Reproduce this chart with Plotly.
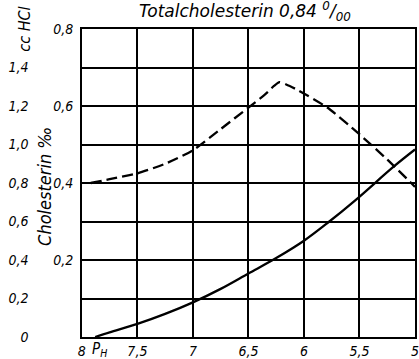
import plotly.graph_objects as go

# pH values and measured curves
ph_dashed = [7.92, 7.75, 7.5, 7.25, 7.0, 6.75, 6.5, 6.35, 6.27, 6.22, 6.16, 6.06, 5.79, 5.53, 5.25, 5.0]
chol_dashed = [0.40, 0.41, 0.425, 0.45, 0.485, 0.54, 0.596, 0.63, 0.652, 0.662, 0.656, 0.642, 0.596, 0.534, 0.461, 0.39]

ph_solid = [7.88, 7.75, 7.5, 7.25, 7.0, 6.75, 6.5, 6.25, 6.0, 5.78, 5.53, 5.19, 5.0]
chol_solid = [0.0, 0.012, 0.034, 0.06, 0.09, 0.125, 0.165, 0.205, 0.25, 0.298, 0.357, 0.443, 0.487]

# axis ticks
x_ticks = [8, 7.5, 7, 6.5, 6, 5.5, 5]
x_labels = ["8", "7,5", "7", "6,5", "6", "5,5", "5"]
y_ticks = [0.1, 0.2, 0.3, 0.4, 0.5, 0.6, 0.7, 0.8]
y_labels = ["", "0,2", "", "0,4", "", "0,6", "", "0,8"]
hcl_ticks = [0, 0.2, 0.4, 0.6, 0.8, 1.0, 1.2, 1.4]
hcl_labels = ["0", "0,2", "0,4", "0,6", "0,8", "1,0", "1,2", "1,4"]

W, H = 419, 359
ML, MR, MT, MB = 0, 2, 29, 21
PW = W - ML - MR
x0 = 79 / PW

FONT = "DejaVu Sans Condensed"
tick_font = dict(family=FONT, size=14, color="black", style="italic")

fig = go.Figure()
fig.add_trace(go.Scatter(
    x=ph_dashed, y=chol_dashed, mode="lines", line_shape="spline",
    line=dict(color="black", width=2.3, dash="11px,5px", smoothing=0.6),
    showlegend=False, hoverinfo="skip"))
fig.add_trace(go.Scatter(
    x=ph_solid, y=chol_solid, mode="lines", line_shape="spline",
    line=dict(color="black", width=2.3), showlegend=False, hoverinfo="skip"))
# keeps the secondary HCl axis on the subplot
fig.add_trace(go.Scatter(x=[None], y=[None], yaxis="y2", showlegend=False, hoverinfo="skip"))

fig.update_layout(
    width=W, height=H,
    margin=dict(l=ML, r=MR, t=MT, b=MB),
    paper_bgcolor="white", plot_bgcolor="white",
    xaxis=dict(
        domain=[x0, 1], range=[8, 5], tickvals=x_ticks, ticktext=x_labels,
        showgrid=True, gridcolor="black", gridwidth=1.7,
        showline=True, linecolor="black", linewidth=1.7, mirror=True,
        ticks="", zeroline=False, tickfont=tick_font, tickangle=0,
        ticklabeloverflow="allow",
    ),
    yaxis=dict(
        range=[0, 0.8], tickvals=y_ticks, ticktext=y_labels,
        showgrid=True, gridcolor="black", gridwidth=1.7,
        showline=True, linecolor="black", linewidth=1.7, mirror=True,
        ticks="", zeroline=False, tickfont=tick_font, ticklabelstandoff=4,
    ),
    yaxis2=dict(
        overlaying="y", anchor="free", position=25 / PW, side="left",
        range=[0, 1.6], tickvals=hcl_ticks, ticktext=hcl_labels,
        showgrid=False, showline=False, zeroline=False, ticks="",
        tickfont=tick_font,
    ),
    annotations=[
        dict(text="Totalcholesterin 0,84 <sup>0</sup>/<sub>00</sub>", xref="paper", yref="paper",
             x=245 / PW, y=1, yshift=18, showarrow=False, xanchor="center", yanchor="middle",
             font=dict(family="DejaVu Sans", size=17, color="black", style="italic")),
        dict(text="Cholesterin ‰", xref="paper", yref="paper",
             x=41 / PW, y=(H - MB - 187) / (H - MT - MB), showarrow=False, textangle=-90,
             xanchor="center", yanchor="middle",
             font=dict(family=FONT, size=18, color="black", style="italic")),
        dict(text="cc HCl", xref="paper", yref="y2", x=20 / PW, y=1.6, showarrow=False,
             textangle=-90, xanchor="center", yanchor="middle",
             font=dict(family=FONT, size=16, color="black", style="italic")),
        dict(text="P<sub>H</sub>", xref="paper", yref="paper", x=97 / PW, y=0, yshift=-12,
             showarrow=False, xanchor="center", yanchor="middle",
             font=dict(family=FONT, size=15, color="black", style="italic")),
    ],
)

fig.write_html("out.html")
